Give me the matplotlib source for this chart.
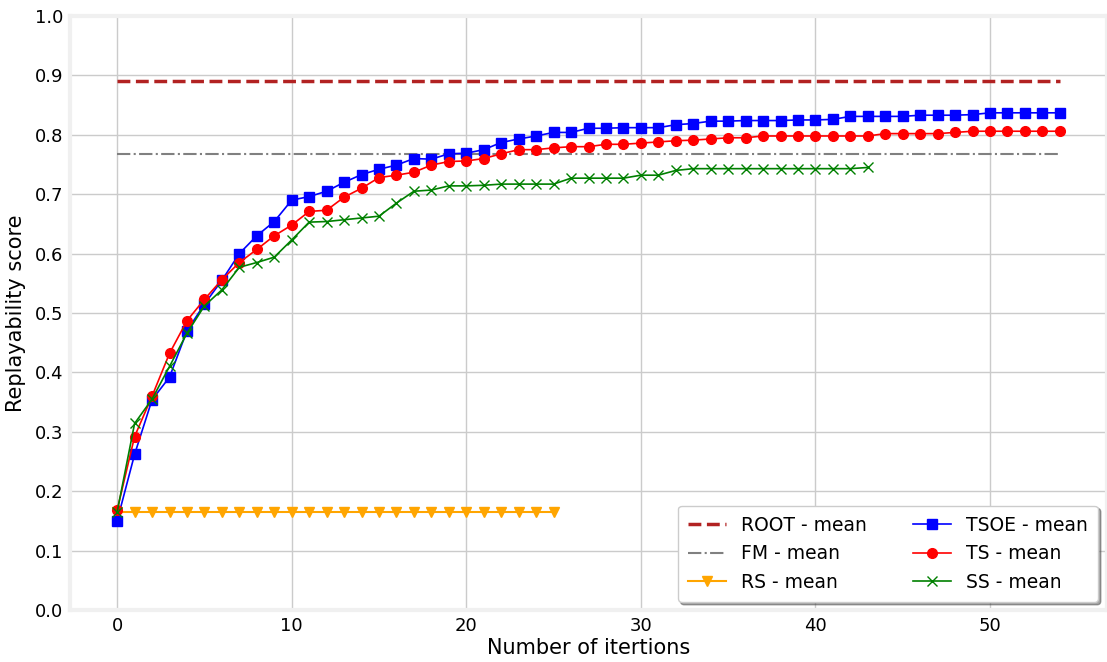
import numpy as np
import matplotlib
matplotlib.use("Agg")
import matplotlib.pyplot as plt

# mean replayability scores per iteration
root_mean = 0.89
fm_mean = 0.767
rs_mean = 0.165
rs_len = 26

tsoe = [0.150, 0.262, 0.354, 0.392, 0.470, 0.515, 0.555, 0.600, 0.630, 0.654,
        0.690, 0.696, 0.705, 0.720, 0.733, 0.742, 0.749, 0.760, 0.759, 0.768,
        0.769, 0.775, 0.787, 0.793, 0.798, 0.804, 0.804, 0.811, 0.811, 0.812,
        0.812, 0.812, 0.817, 0.819, 0.823, 0.823, 0.824, 0.824, 0.824, 0.825,
        0.825, 0.826, 0.831, 0.831, 0.831, 0.831, 0.833, 0.833, 0.833, 0.834,
        0.837, 0.837, 0.837, 0.837, 0.837]
ts = [0.168, 0.292, 0.360, 0.432, 0.487, 0.523, 0.556, 0.585, 0.607, 0.630,
      0.648, 0.671, 0.673, 0.695, 0.710, 0.728, 0.732, 0.737, 0.749, 0.755,
      0.756, 0.760, 0.768, 0.775, 0.775, 0.778, 0.780, 0.780, 0.784, 0.784,
      0.786, 0.788, 0.790, 0.791, 0.793, 0.795, 0.795, 0.798, 0.798, 0.798,
      0.798, 0.798, 0.798, 0.798, 0.802, 0.802, 0.802, 0.802, 0.804, 0.806,
      0.806, 0.806, 0.806, 0.806, 0.806]
ss = [0.165, 0.314, 0.355, 0.410, 0.466, 0.512, 0.539, 0.577, 0.585, 0.594,
      0.623, 0.653, 0.654, 0.657, 0.660, 0.663, 0.685, 0.705, 0.707, 0.714,
      0.714, 0.715, 0.717, 0.717, 0.717, 0.717, 0.727, 0.727, 0.727, 0.727,
      0.732, 0.732, 0.740, 0.743, 0.743, 0.743, 0.743, 0.743, 0.743, 0.743,
      0.743, 0.743, 0.743, 0.745]

n = len(tsoe)
x_all = np.arange(n)

fig = plt.figure(figsize=(11.07, 6.62), dpi=100)
ax = fig.add_axes([70 / 1107, 52 / 662, 1037 / 1107, 594 / 662])

ax.grid(True, color="#cbcbcb", lw=1)
ax.set_axisbelow(True)
for s in ax.spines.values():
    s.set_color("#f0f0f0")
    s.set_linewidth(3)
ax.tick_params(length=0, labelsize=13, pad=5)

ax.plot(x_all, [root_mean] * n, "--", color="#b22222", lw=2.5, label="ROOT - mean")
ax.plot(x_all, [fm_mean] * n, "-.", color="gray", lw=1.5, label="FM - mean")
ax.plot(np.arange(rs_len), [rs_mean] * rs_len, "-v", color="orange", lw=1.5, ms=7,
        label="RS - mean")
ax.plot(x_all, tsoe, "-s", color="blue", lw=1.2, ms=7, label="TSOE - mean")
ax.plot(x_all, ts, "-o", color="red", lw=1.2, ms=7, label="TS - mean")
ax.plot(np.arange(len(ss)), ss, "-x", color="green", lw=1.2, ms=7, label="SS - mean")

ax.set_xlim(-2.7, 56.7)
ax.set_ylim(0, 1.0)
ax.set_yticks(np.arange(0, 1.01, 0.1))
ax.set_xlabel("Number of itertions", fontsize=15, labelpad=2)
ax.set_ylabel("Replayability score", fontsize=15, labelpad=6)

leg = ax.legend(loc="lower right", ncol=2, fontsize=13.5, shadow=True, fancybox=True,
                numpoints=1, framealpha=1, columnspacing=2.5, borderpad=0.55,
                bbox_to_anchor=(1098 / 1107, 1 - 602 / 662),
                bbox_transform=fig.transFigure, borderaxespad=0)

fig.savefig("out.png", dpi=100, facecolor="white")
